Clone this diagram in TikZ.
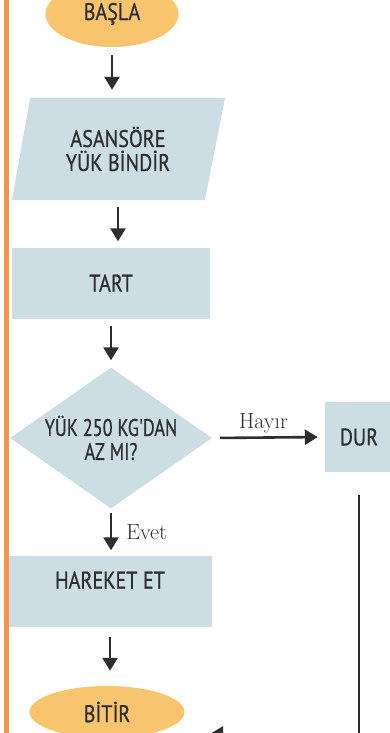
\documentclass[tikz,border=0pt]{standalone}
\usepackage{fontspec}
\usetikzlibrary{arrows.meta,calc,backgrounds,shapes.geometric}
\newfontfamily\chartfont{PT Sans}[FakeStretch=0.84, FakeBold=0.6]
\newfontfamily\askfont{PT Sans}[FakeStretch=0.76, FakeBold=0.6]
\definecolor{stepblue}{HTML}{CCDEE4}
\definecolor{termorange}{HTML}{F8C46E}
\definecolor{barorange}{HTML}{F7954A}
\definecolor{inkgray}{HTML}{2E2E2E}

\begin{document}
\begin{tikzpicture}[
    x=1pt, y=-1pt,
    font=\chartfont\fontsize{24}{24}\selectfont,
    stepbox/.style={rectangle, fill=stepblue, text=inkgray, align=center,
      inner sep=0pt},
    plain/.style={rectangle, text=inkgray, align=center, inner sep=0pt},
    term/.style={ellipse, fill=termorange, text=inkgray, inner sep=0pt},
    ask/.style={diamond, fill=stepblue, inner sep=0pt},
    answer/.style={font=\rmfamily\fontsize{22}{24}\selectfont, text=inkgray, inner sep=2pt},
    arrow/.style={-{Triangle[length=13pt,width=15pt]}, line width=2.6pt,
      draw=inkgray, shorten <=8pt, shorten >=8pt}
  ]
    \useasboundingbox (0,0) rectangle (390,733);
    \clip (0,0) rectangle (390,733);
    \fill[barorange] (4,0) rectangle (9,733);

    \node[term, minimum width=133pt, minimum height=66pt] (start) at (112,14) {BAŞLA};
    \node[plain, minimum width=195pt, minimum height=102pt] (load) at (118,149) {ASANSÖRE\\YÜK BİNDİR};
    \node[stepbox, minimum width=198pt, minimum height=71pt] (weigh) at (111,283) {TART};
    \node[ask, minimum width=202pt, minimum height=141pt,
      label={[plain, font=\askfont\fontsize{24}{24}\selectfont]center:YÜK 250 KG'DAN\\AZ MI?}] (check) at (111,438) {};
    \node[stepbox, minimum width=68pt, minimum height=70pt] (halt) at (359,437) {DUR};
    \node[stepbox, minimum width=203pt, minimum height=71pt, text depth=22pt] (move) at (110,591) {HAREKET ET};
    \node[term, minimum width=155pt, minimum height=52pt] (finish) at (107,712) {BİTİR};
    \coordinate (finishin) at (210,734);

    % slanted input box behind its text
    \begin{scope}[on background layer]
      \fill[stepblue] ($(load)+(-88,-51)$) -- ($(load)+(107,-51)$)
        -- ($(load)+(87,51)$) -- ($(load)+(-106,51)$) -- cycle;
    \end{scope}

    \draw[arrow] (start.south) -- (start.south |- load.north);
    \draw[arrow, shorten <=7pt, shorten >=6pt] (load.south) -- (load.south |- weigh.north);
    \draw[arrow, shorten <=7pt, shorten >=7pt] (weigh.south) -- (weigh.south |- check.north);
    \draw[arrow, shorten <=4pt, shorten >=5pt] (check.south) -- (check.south |- move.north)
      node[answer, midway, right=12pt] {Evet};
    \draw[arrow, shorten <=10pt, shorten >=15pt] (move.south) -- (move.south |- finish.north);
    \draw[arrow, shorten >=7pt] (check.east) -- (halt.west)
      node[answer, midway, above=1pt, xshift=-5pt] {Hayır};
    \draw[arrow, shorten <=23pt, shorten >=0pt] (halt.south) |- (finishin);
  \end{tikzpicture}
\end{document}
